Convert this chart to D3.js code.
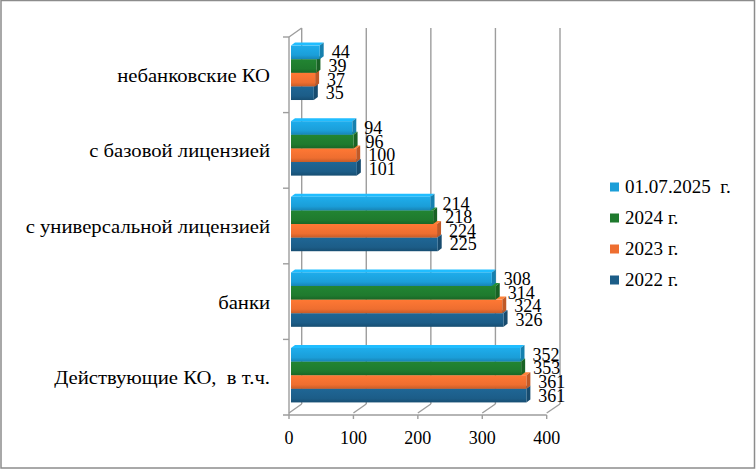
<!DOCTYPE html>
<html>
<head>
<meta charset="utf-8">
<script src="https://cdn.jsdelivr.net/npm/d3@7"></script>
<style>
  body { margin: 0; background: #fff; }
  svg text { font-family: "Liberation Serif", "Times New Roman", serif; fill: #000; }
</style>
</head>
<body>
<svg id="chart" width="756" height="469"></svg>
<script>
// categories top to bottom
const categories = ['небанковские КО', 'с базовой лицензией', 'с универсальной лицензией', 'банки', 'Действующие КО,  в т.ч.']
// series top to bottom inside each group
const seriesNames = ['01.07.2025  г.', '2024 г.', '2023 г.', '2022 г.']
const seriesColors = ['#1b9ed8', '#1f7a2e', '#ee6e30', '#1c5d88']
const v2025 = [44, 94, 214, 308, 352]
const v2024 = [39, 96, 218, 314, 353]
const v2023 = [37, 100, 224, 324, 361]
const v2022 = [35, 101, 225, 326, 361]
const seriesValues = [v2025, v2024, v2023, v2022]
const xTicks = [0, 100, 200, 300, 400]

const svg = d3.select('#chart')
const W = 756, H = 469
const dx = 4, dy = -3   // 3d offset of bar faces
const font = '"Liberation Serif", "Times New Roman", serif'

// outer frame
svg.append('rect')
    .attr('x', 1).attr('y', 0.5)
    .attr('width', W - 2.5).attr('height', H - 1.5)
    .attr('fill', '#fff').attr('stroke', '#8c8c8c').attr('stroke-width', 1.5)

// planes
const xFront = d3.scaleLinear().domain([0, 400]).range([289, 546.7])
const xBack = d3.scaleLinear().domain([0, 400]).range([301.7, 560])
const x = d3.scaleLinear().domain([0, 400]).range([291, 551.8])
const backTop = 28, backBottom = 404, frontTop = 37, frontBottom = 415

const wallBand = d3.scaleBand().domain(categories).range([frontTop, frontBottom])
const y = d3.scaleBand().domain(categories).range([35, 413])
    .paddingInner(0.28).paddingOuter(0.14)
const ySub = d3.scaleBand().domain(seriesNames).range([0, y.bandwidth()])

const grid = svg.append('g').attr('stroke', '#9d9d9d').attr('stroke-width', 1.4).attr('fill', 'none')
// back wall gridlines
xTicks.forEach(t => {
    grid.append('line')
        .attr('x1', xBack(t)).attr('x2', xBack(t))
        .attr('y1', backTop).attr('y2', backBottom)
    // floor diagonals
    grid.append('line')
        .attr('x1', xFront(t)).attr('y1', frontBottom - 2)
        .attr('x2', xBack(t)).attr('y2', backBottom)
    // front ticks
    grid.append('line')
        .attr('x1', xFront(t)).attr('x2', xFront(t))
        .attr('y1', frontBottom).attr('y2', frontBottom + 4)
})
// floor front edge
grid.append('line')
    .attr('x1', 283).attr('x2', xFront(400))
    .attr('y1', frontBottom).attr('y2', frontBottom)
// left wall
grid.append('line')
    .attr('x1', xFront(0)).attr('x2', xFront(0))
    .attr('y1', frontTop).attr('y2', frontBottom)
grid.append('line')
    .attr('x1', xFront(0)).attr('y1', frontTop)
    .attr('x2', xBack(0)).attr('y2', backTop)
// category ticks on wall
categories.forEach(c => {
    grid.append('line')
        .attr('x1', 283).attr('x2', xFront(0))
        .attr('y1', wallBand(c)).attr('y2', wallBand(c))
})

// gradients for bar front faces
const defs = svg.append('defs')
seriesColors.forEach((col, i) => {
    const g = defs.append('linearGradient').attr('id', 'grad' + i)
        .attr('x1', 0).attr('x2', 0).attr('y1', 0).attr('y2', 1)
    g.append('stop').attr('offset', '0%').attr('stop-color', d3.color(col).brighter(0.25))
    g.append('stop').attr('offset', '70%').attr('stop-color', col)
    g.append('stop').attr('offset', '100%').attr('stop-color', d3.color(col).darker(0.5))
})

// bars: draw bottom series first so upper bars cover hidden top faces
const bars = svg.append('g')
categories.forEach((c, ci) => {
    for (let si = seriesNames.length - 1; si >= 0; si--) {
        const val = seriesValues[si][ci]
        const col = seriesColors[si]
        const x0 = x(0), x1 = x(val)
        const y0 = y(c) + ySub(seriesNames[si])
        const h = ySub.bandwidth()
        // top face
        bars.append('path')
            .attr('fill', d3.color(col).brighter(0.5))
            .attr('d', `M${x0},${y0}L${x0 + dx},${y0 + dy}L${x1 + dx},${y0 + dy}L${x1},${y0}Z`)
        // side face
        bars.append('path')
            .attr('fill', d3.color(col).darker(0.6))
            .attr('d', `M${x1},${y0}L${x1 + dx},${y0 + dy}L${x1 + dx},${y0 + h + dy}L${x1},${y0 + h}Z`)
        // front face
        bars.append('rect')
            .attr('x', x0).attr('y', y0)
            .attr('width', x1 - x0).attr('height', h)
            .attr('fill', `url(#grad${si})`)
    }
})

// value labels
const labels = svg.append('g').attr('font-size', 18).attr('font-family', font)
categories.forEach((c, ci) => {
    seriesNames.forEach((s, si) => {
        const val = seriesValues[si][ci]
        labels.append('text')
            .attr('x', x(val) + 12)
            .attr('y', y(c) + ySub(s) + ySub.bandwidth() / 2 + 6)
            .text(val)
    })
})

// category labels (reference type is set wider than the digits)
svg.append('g').attr('font-size', 18).attr('font-family', font).attr('text-anchor', 'end')
    .selectAll('text').data(categories).join('text')
    .attr('transform', d => `translate(270,${wallBand(d) + wallBand.bandwidth() / 2 + 7}) scale(1.15,1)`)
    .style('white-space', 'pre')
    .text(d => d)

// x tick labels
svg.append('g').attr('font-size', 18).attr('font-family', font).attr('text-anchor', 'middle')
    .selectAll('text').data(xTicks).join('text')
    .attr('x', d => xFront(d))
    .attr('y', 444)
    .text(d => d)

// legend
const legend = svg.append('g').attr('font-size', 18).attr('font-family', font)
const legendY = d3.scalePoint().domain(seriesNames).range([187, 280])
seriesNames.forEach((s, i) => {
    legend.append('rect')
        .attr('x', 610).attr('y', legendY(s) - 4.5)
        .attr('width', 9).attr('height', 9)
        .attr('fill', seriesColors[i])
    legend.append('text')
        .attr('transform', `translate(625,${legendY(s) + 6}) scale(1.06,1)`)
        .style('white-space', 'pre')
        .text(s)
})
</script>
</body>
</html>
